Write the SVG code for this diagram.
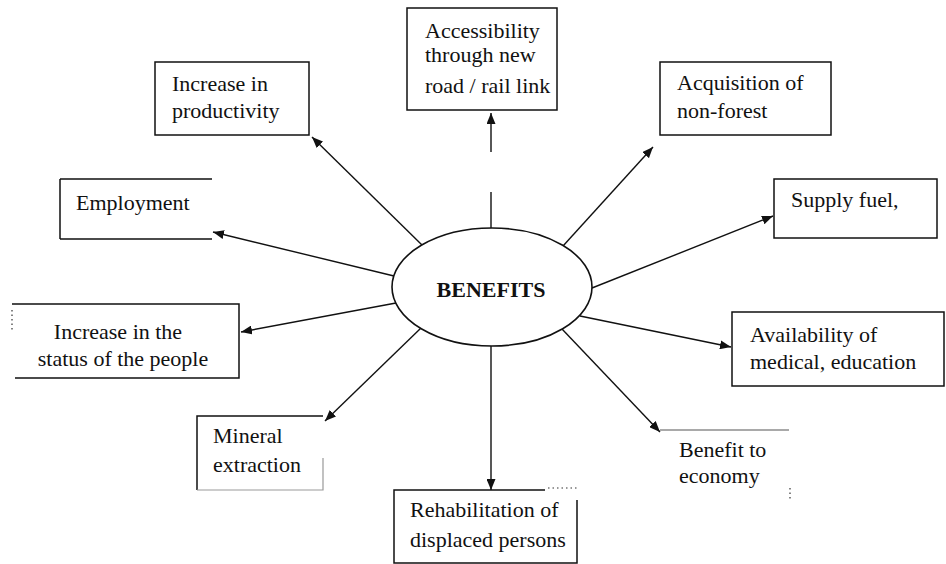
<svg xmlns="http://www.w3.org/2000/svg" width="946" height="564" viewBox="0 0 946 564">
<style>
.bx{fill:none;stroke:#111;stroke-width:1.5}
.fa{fill:none;stroke:#999;stroke-width:1.2}
.dt{fill:none;stroke:#333;stroke-width:1.2;stroke-dasharray:1.5 3}
.t{font-family:"Liberation Serif","Times New Roman",serif;font-size:22px;fill:#111}
.c{fill:none;stroke:#111;stroke-width:1.4;marker-end:url(#ah)}
</style>
<defs>
<marker id="ah" markerUnits="userSpaceOnUse" markerWidth="12" markerHeight="9" refX="11" refY="4.5" orient="auto">
<path d="M0,0 L11,4.5 L0,9 z" fill="#111"/>
</marker>
</defs>
<rect width="946" height="564" fill="#fff"/>

<g id="connectors">
<line class="c" x1="422" y1="245" x2="312" y2="137"/>
<path class="c" d="M491,228 V192 M491,152 V113"/>
<line class="c" x1="563" y1="246" x2="653" y2="147"/>
<line class="c" x1="394" y1="276" x2="213" y2="232"/>
<line class="c" x1="592" y1="288" x2="773" y2="216"/>
<line class="c" x1="396" y1="303" x2="241" y2="332"/>
<line class="c" x1="580" y1="316" x2="731" y2="347"/>
<line class="c" x1="421" y1="328" x2="325" y2="421"/>
<line class="c" x1="491" y1="346" x2="491" y2="490"/>
<line class="c" x1="562" y1="329" x2="660" y2="432"/>
</g>

<g id="benefits">
<ellipse cx="492" cy="287" rx="100" ry="59" fill="#fff" stroke="#111" stroke-width="1.6"/>
<text class="t" x="491" y="297" text-anchor="middle" font-weight="bold">BENEFITS</text>
</g>

<g id="productivity">
<rect class="bx" x="155" y="62" width="154" height="73"/>
<text class="t" x="172" y="91">Increase in</text>
<text class="t" x="172" y="118">productivity</text>
</g>

<g id="accessibility">
<rect class="bx" x="407" y="8" width="150" height="102"/>
<text class="t" x="425" y="38">Accessibility</text>
<text class="t" x="425" y="62">through new</text>
<text class="t" x="425" y="93">road / rail link</text>
</g>

<g id="acquisition">
<rect class="bx" x="660" y="62" width="171" height="73"/>
<text class="t" x="677" y="90">Acquisition of</text>
<text class="t" x="677" y="118">non-forest</text>
</g>

<g id="employment">
<path class="bx" d="M60,179 H212 M60,239 H212 M60,179 V239"/>
<text class="t" x="76" y="210">Employment</text>
</g>

<g id="supply">
<rect class="bx" x="774" y="179" width="163" height="59"/>
<text class="t" x="791" y="207">Supply fuel,</text>
</g>

<g id="status">
<path class="bx" d="M12,304 H239 V378 H15"/>
<path class="dt" d="M12,310 V332"/>
<text class="t" x="118" y="339" text-anchor="middle">Increase in the</text>
<text class="t" x="123" y="366" text-anchor="middle">status of the people</text>
</g>

<g id="availability">
<rect class="bx" x="732" y="312" width="212" height="74"/>
<text class="t" x="750" y="342">Availability of</text>
<text class="t" x="750" y="369">medical, education</text>
</g>

<g id="mineral">
<path class="bx" d="M197,490 V416 H323"/>
<path class="fa" d="M323,458 V490 H197"/>
<text class="t" x="213" y="443">Mineral</text>
<text class="t" x="213" y="472">extraction</text>
</g>

<g id="rehabilitation">
<path class="bx" d="M545,490 H394 V563 H577 V500"/>
<path class="dt" d="M548,488 H578"/>
<text class="t" x="410" y="517">Rehabilitation of</text>
<text class="t" x="410" y="547">displaced persons</text>
</g>

<g id="economy">
<path class="fa" d="M660,430 H789" style="stroke:#555"/>
<path class="dt" d="M790,488 V500"/>
<text class="t" x="679" y="457">Benefit to</text>
<text class="t" x="679" y="483">economy</text>
</g>
</svg>
